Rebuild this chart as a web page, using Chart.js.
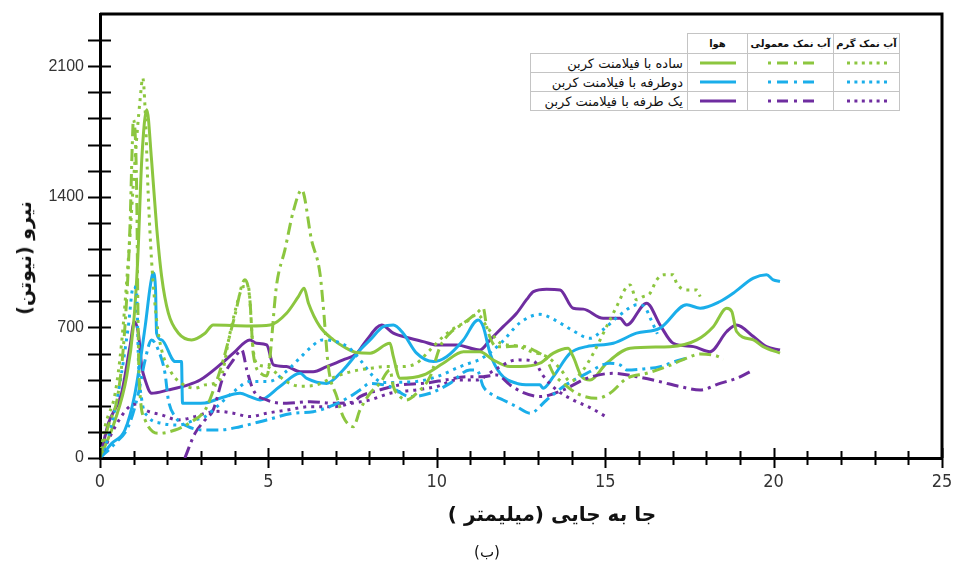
<!DOCTYPE html>
<html>
<head>
<meta charset="utf-8">
<script src="https://cdn.jsdelivr.net/npm/chart.js@4.4.1/dist/chart.umd.min.js"></script>
<style>
  body { margin: 0; background: #fff; }
  #wrap { position: relative; width: 957px; height: 564px; background: #fff; overflow: hidden; }
  #c { position: absolute; left: 0; top: 0; }
  .fa { font-family: 'DejaVu Sans', 'Noto Sans', sans-serif; direction: rtl; white-space: nowrap; color: #111; }
  #ytitle { position: absolute; left: 24px; top: 258px; font-size: 19px; font-weight: bold; transform: translate(-50%, -50%) rotate(-90deg); }
  #xtitle { position: absolute; left: 552px; top: 514px; font-size: 20px; font-weight: bold; transform: translate(-50%, -50%); }
  #cap { position: absolute; left: 487px; top: 552px; font-size: 15px; transform: translate(-50%, -50%); }
  #key { position: absolute; left: 530px; top: 33px; border-collapse: collapse; background: #fff; table-layout: fixed; }
  #key td { border: 1px solid #c4c4c4; padding: 0; height: 18px; text-align: center; vertical-align: middle; }
  #key td.blank { border-top: none; border-left: none; }
  #key td.head { font-size: 10px; font-weight: bold; height: 19px; overflow: hidden; }
  #key td.lab { text-align: right; padding-right: 4px; font-size: 13px; }
  #key svg { display: block; margin: 0 auto; }
</style>
</head>
<body>
<div id="wrap">
  <canvas id="c" width="957" height="564"></canvas>
  <div id="ytitle" class="fa">نیرو  (نیوتن)</div>
  <div id="xtitle" class="fa">جا به جایی  (میلیمتر )</div>
  <div id="cap" class="fa">(ب)</div>
  <table id="key">
    <colgroup><col style="width:157px"><col style="width:60px"><col style="width:86px"><col style="width:66px"></colgroup>
    <tbody id="keyBody"></tbody>
  </table>
</div>
<script>
// x = displacement (mm), y = force (N)
var xLabelled = [0, 5, 10, 15, 20, 25];
var yLabelled = [0, 700, 1400, 2100];

var rowNames = ['ساده با فیلامنت کربن', 'دوطرفه با فیلامنت کربن', 'یک طرفه با فیلامنت کربن'];
var colNames = ['هوا', 'آب نمک معمولی', 'آب نمک گرم'];
var rowColors = ['#8cc63f', '#1aaeea', '#6f2da0'];

// green – simple
var simpleAir = [[0,0],[0.45,204],[0.79,436],[0.99,704],[1.12,1062],[1.24,1599],[1.39,1867],[1.53,1599],[1.68,1241],[1.83,973],[2.03,776],[2.33,669],[2.72,633],[3.12,669],[3.36,713],[4.45,708],[5.05,713],[5.54,776],[5.89,865],[6.06,910],[6.19,830],[6.53,704],[6.93,633],[7.32,588],[7.62,565],[8.02,562],[8.61,615],[8.71,543],[8.91,427],[9.6,445],[10.19,508],[10.79,570],[11.28,570],[11.68,525],[12.17,490],[12.47,490],[13.06,508],[13.46,562],[13.9,588],[14.05,543],[14.3,436],[14.55,418],[15.04,508],[15.74,588],[16.93,597],[17.72,633],[18.21,704],[18.61,803],[18.76,785],[18.9,678],[19.4,633],[19.69,597],[20.19,562]];
var simpleNormal = [[0,0],[0.24,168],[0.54,347],[0.74,704],[0.89,1241],[0.96,1688],[0.99,1813],[1.09,1420],[1.12,883],[1.16,436],[1.34,204],[1.73,132],[2.23,150],[2.72,195],[3.12,257],[3.4,380],[3.66,526],[4.0,760],[4.3,955],[4.45,848],[4.55,560],[4.8,450],[4.95,440],[5.25,937],[5.49,1116],[5.75,1330],[5.99,1437],[6.28,1169],[6.53,991],[6.63,812],[6.78,490],[7.03,329],[7.22,222],[7.52,168],[7.72,257],[8.02,347],[8.31,400],[8.61,472],[8.71,383],[8.91,329],[9.1,311],[9.4,347],[9.8,436],[10.1,597],[10.39,669],[10.79,722],[11.18,776],[11.38,803],[11.48,704],[11.78,597],[12.08,597],[12.47,600],[12.87,579],[13.26,526],[13.46,454],[13.76,400],[14.15,347],[14.75,320],[15.14,347],[15.64,427],[16.23,454],[16.83,490],[17.42,535],[17.82,558],[18.31,547],[18.51,530]];
var simpleWarm = [[0,0],[0.15,168],[0.45,347],[0.64,615],[0.84,1062],[1.04,1599],[1.19,1920],[1.27,2037],[1.34,1867],[1.43,1420],[1.53,1062],[1.68,740],[1.83,579],[2.13,454],[2.42,400],[2.82,374],[3.12,392],[3.56,420],[3.86,669],[4.1,848],[4.26,919],[4.4,919],[4.55,579],[4.65,508],[4.95,490],[5.54,409],[5.94,385],[6.43,392],[6.9,430],[7.5,465],[8.0,480],[8.5,490],[8.91,490],[9.4,508],[9.8,579],[10.19,651],[10.59,704],[10.89,731],[11.2,770],[11.5,700],[11.9,615],[12.4,600],[12.8,570],[13.3,540],[13.7,470],[13.96,410],[14.3,460],[14.65,562],[15.04,704],[15.34,812],[15.64,919],[15.74,928],[15.93,848],[16.13,865],[16.33,883],[16.53,955],[16.73,982],[17.02,982],[17.12,937],[17.42,901],[17.72,901],[17.82,865]];

// blue – two-sided
var twoAir = [[0,0],[0.35,79],[0.74,150],[1.04,347],[1.34,704],[1.5,930],[1.58,991],[1.65,900],[1.68,669],[1.83,633],[2.23,517],[2.42,517],[2.45,293],[2.82,293],[3.12,295],[3.56,320],[4.16,347],[4.45,329],[4.75,311],[5.34,383],[5.94,454],[6.14,427],[6.73,400],[7.22,472],[7.72,579],[8.02,633],[8.41,704],[8.71,713],[9.0,669],[9.4,562],[9.9,517],[10.29,543],[10.79,633],[11.23,740],[11.38,704],[11.58,562],[11.88,454],[12.37,400],[12.77,392],[13.06,392],[13.16,374],[13.46,436],[13.96,562],[14.45,597],[15.24,615],[15.93,669],[16.63,696],[17.42,821],[17.82,803],[18.41,839],[18.8,883],[19.4,964],[19.79,982],[19.99,955],[20.19,946]];
var twoNormal = [[0,0],[0.45,79],[0.84,168],[1.14,347],[1.34,526],[1.53,633],[1.73,579],[1.93,454],[2.03,311],[2.23,222],[2.62,168],[3.12,150],[3.56,150],[4.16,168],[4.95,204],[5.74,240],[6.33,248],[6.93,284],[7.42,329],[7.72,365],[8.02,400],[8.61,383],[9.2,329],[9.8,347],[10.39,400],[10.98,472],[11.2,470],[11.38,383],[11.58,347],[11.97,311],[12.37,275],[12.77,240],[13.26,311],[13.76,383],[14.45,454],[15.14,508],[15.44,499],[15.64,472],[16.03,476],[16.63,490],[17.22,526],[17.42,535]];
var twoWarm = [[0,0],[0.25,115],[0.54,347],[0.84,704],[0.99,919],[1.09,883],[1.14,526],[1.24,311],[1.43,222],[1.83,186],[2.33,177],[2.82,204],[3.12,222],[3.5,280],[4.0,360],[4.45,410],[5.0,410],[5.5,460],[5.9,530],[6.3,600],[6.6,633],[7.0,625],[7.4,590],[7.75,520],[8.1,440],[8.4,405],[9.4,410],[10.0,436],[10.7,490],[11.0,510],[11.3,530],[11.9,615],[12.47,725],[13.06,770],[13.5,740],[14.0,687],[14.55,642],[14.95,690],[15.44,767],[15.95,821],[16.15,815],[16.35,745],[16.55,665]];

// purple – one-sided
var oneAir = [[0,0],[0.25,186],[0.64,347],[0.89,597],[1.02,731],[1.14,669],[1.24,490],[1.34,418],[1.53,347],[2.03,365],[2.62,392],[2.97,418],[3.56,499],[3.96,562],[4.45,633],[4.65,615],[4.95,606],[5.15,499],[5.54,490],[5.94,463],[6.33,463],[6.73,490],[7.22,526],[7.62,560],[7.92,633],[8.36,713],[8.71,669],[9.2,642],[9.6,624],[10.0,606],[10.59,606],[11.28,579],[11.58,633],[11.97,704],[12.37,776],[12.67,850],[12.87,892],[13.26,905],[13.66,901],[14.05,803],[14.35,798],[14.94,749],[15.44,749],[15.64,713],[16.23,830],[16.63,713],[17.02,615],[17.62,597],[18.11,570],[18.61,678],[18.9,713],[19.4,651],[19.79,597],[20.19,579]];
var oneNormal = [[2.52,0],[2.82,132],[3.12,204],[3.36,257],[3.66,436],[3.96,526],[4.21,579],[4.36,472],[4.55,365],[4.95,311],[5.54,293],[6.24,302],[6.93,293],[7.52,300],[7.72,329],[8.31,365],[8.91,392],[9.6,400],[10.3,420],[10.89,436],[11.38,436],[11.78,445],[12.17,392],[12.57,350],[13.06,329],[13.76,365],[14.45,427],[15.24,454],[15.93,436],[16.63,409],[17.22,383],[17.82,365],[18.41,400],[18.9,427],[19.4,472]];
var oneWarm = [[0,0],[0.45,168],[0.84,270],[1.1,290],[1.34,257],[1.83,231],[2.33,204],[2.82,222],[3.12,240],[3.5,250],[3.96,240],[4.45,222],[4.95,240],[5.54,257],[6.24,275],[6.93,275],[7.52,295],[8.02,311],[8.61,347],[9.4,365],[10.0,383],[10.59,418],[11.18,418],[11.7,470],[12.37,526],[12.87,520],[13.16,440],[13.56,365],[14.05,311],[14.55,270],[15.1,213]];

var dashDot = [12, 5, 3, 5];
var dotted = [3, 5];

function series(name, pts, color, dash) {
  return {
    label: name,
    data: pts.map(function (p) { return { x: p[0], y: p[1] }; }),
    borderColor: color,
    backgroundColor: color,
    borderWidth: 3,
    borderDash: dash,
    borderCapStyle: 'butt',
    pointRadius: 0,
    cubicInterpolationMode: 'monotone',
    fill: false
  };
}

// legend table
var keyBody = document.getElementById('keyBody');
var sampleSvg = [
  '<svg width="40" height="6"><line x1="2" y1="3" x2="38" y2="3" stroke="COL" stroke-width="3"/></svg>',
  '<svg width="48" height="6"><line x1="1" y1="3" x2="47" y2="3" stroke="COL" stroke-width="3" stroke-dasharray="3 6 11 6"/></svg>',
  '<svg width="42" height="6"><line x1="1" y1="3" x2="41" y2="3" stroke="COL" stroke-width="3" stroke-dasharray="3 4.4"/></svg>'
];
var html = '<tr><td class="blank"></td>' + colNames.map(function (c) {
  return '<td class="head fa">' + c + '</td>';
}).join('') + '</tr>';
rowNames.forEach(function (r, i) {
  html += '<tr><td class="lab fa">' + r + '</td>'
    + sampleSvg.map(function (s) { return '<td>' + s.replace('COL', rowColors[i]) + '</td>'; }).join('')
    + '</tr>';
});
keyBody.innerHTML = html;

// ticks that cross the axis lines, plus the closed frame at top and right
var crossTicks = {
  id: 'crossTicks',
  afterDraw: function (chart) {
    var ctx = chart.ctx, a = chart.chartArea, xs = chart.scales.x, ys = chart.scales.y;
    ctx.save();
    ctx.strokeStyle = '#000';
    ctx.lineWidth = 2;
    ctx.beginPath();
    xs.ticks.forEach(function (t) {
      var px = Math.round(xs.getPixelForValue(t.value)) + 0.5;
      var len = t.value % 5 === 0 ? 10 : 7;
      ctx.moveTo(px, a.bottom - len);
      ctx.lineTo(px, a.bottom + len);
    });
    ys.ticks.forEach(function (t) {
      if (t.value >= ys.max) return;
      var py = Math.round(ys.getPixelForValue(t.value)) + 0.5;
      ctx.moveTo(a.left - 12, py);
      ctx.lineTo(a.left + 11, py);
    });
    ctx.stroke();
    ctx.lineWidth = 3;
    ctx.beginPath();
    ctx.moveTo(a.left, a.top);
    ctx.lineTo(a.right, a.top);
    ctx.lineTo(a.right, a.bottom);
    ctx.stroke();
    ctx.restore();
  }
};

new Chart(document.getElementById('c').getContext('2d'), {
  type: 'line',
  data: {
    datasets: [
      series('simpleNormal', simpleNormal, rowColors[0], dashDot),
      series('simpleWarm', simpleWarm, rowColors[0], dotted),
      series('twoNormal', twoNormal, rowColors[1], dashDot),
      series('twoWarm', twoWarm, rowColors[1], dotted),
      series('oneNormal', oneNormal, rowColors[2], dashDot),
      series('oneWarm', oneWarm, rowColors[2], dotted),
      series('simpleAir', simpleAir, rowColors[0], []),
      series('twoAir', twoAir, rowColors[1], []),
      series('oneAir', oneAir, rowColors[2], [])
    ]
  },
  options: {
    responsive: false,
    animation: false,
    layout: { padding: { left: 0, top: 14, right: 15, bottom: 0 } },
    plugins: { legend: { display: false }, tooltip: { enabled: false } },
    scales: {
      x: {
        type: 'linear', min: 0, max: 25,
        afterFit: function (s) { s.height = 106; s.paddingLeft = 0; s.paddingRight = 0; },
        ticks: {
          stepSize: 1, padding: 14, color: '#333', autoSkip: false, maxRotation: 0,
          font: { family: "'Liberation Sans Narrow', 'DejaVu Sans Condensed', 'Liberation Sans'", size: 18 },
          callback: function (v) { return xLabelled.indexOf(v) >= 0 ? String(v) : ''; }
        },
        grid: { display: true, drawOnChartArea: false, drawTicks: false },
        border: { display: true, color: '#000', width: 3 }
      },
      y: {
        type: 'linear', min: 0, max: 2380,
        afterFit: function (s) { s.width = 100; s.paddingTop = 0; s.paddingBottom = 0; },
        ticks: {
          stepSize: 140, padding: 16, color: '#333', autoSkip: false,
          font: { family: "'Liberation Sans', Arial", size: 16 },
          callback: function (v) { return yLabelled.indexOf(v) >= 0 ? String(v) : ''; }
        },
        grid: { display: true, drawOnChartArea: false, drawTicks: false },
        border: { display: true, color: '#000', width: 3 }
      }
    }
  },
  plugins: [crossTicks]
});
</script>
</body>
</html>
